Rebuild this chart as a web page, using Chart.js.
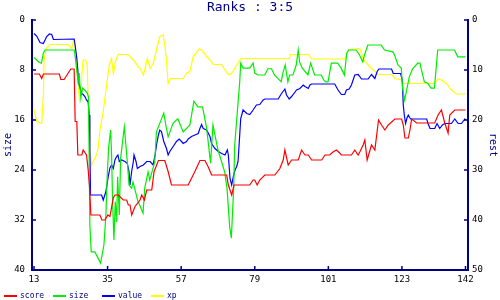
<!DOCTYPE html>
<html>
<head>
<meta charset="utf-8">
<script src="https://cdn.jsdelivr.net/npm/chart.js@4.4.1/dist/chart.umd.min.js"></script>
<style>
  html, body { margin: 0; padding: 0; background: #fff; }
  #chart { display: block; }
</style>
</head>
<body>
<canvas id="chart" width="500" height="300"></canvas>
<script>
// x ticks shown on the bottom axis
const xTicks = [13, 35, 57, 79, 101, 123, 142];
const seriesNames = ['score', 'size', 'value', 'xp'];
const seriesColors = ['#ff0000', '#00ee00', '#0000ff', '#ffff00'];

// [x, rank]
const score = [[13,10.8],[14.6,10.8],[15.3,11.7],[15.8,10.8],[20.6,10.8],[21,11.9],[22,11.9],[24,9.8],[25,9.8],[25.3,20.3],
  [25.8,20.3],[26.1,27],[27.3,27],[27.7,26],[28.7,27],[29.2,30],[29.6,33.4],[30,39],[32.7,39],[33.3,40],
  [34.2,40],[35.1,39],[35.7,39.3],[36.7,35.6],[37.2,35],[38.2,35],[39.7,36],[40.7,36],[41.2,37],[41.7,37],
  [42.2,39],[43.2,37.3],[44.7,36],[45.2,35],[46,36],[46.7,34],[48.2,34],[48.9,30.3],[50.2,28.1],[52.1,28.1],
  [53.1,30.3],[54.1,33],[59.1,33],[61.1,30.3],[62.6,28.1],[64.1,28.1],[65.1,29.4],[66.1,31],[70.6,31],[71.1,33],
  [72.1,35],[72.8,33],[77.5,33],[78.5,32],[79,32],[79.7,33],[80.5,32],[82,31],[85,31],[86.5,29.7],
  [87.5,28],[88,26],[89,29],[90,28],[92,28],[93,26],[94,27],[95,27],[96,28],[99,28],
  [100,27],[101.4,27],[102.4,26.4],[103.4,26],[104.4,26.6],[104.9,27],[107.9,27],[108.9,26],[109.9,27],[110.4,26.4],
  [111.4,25],[111.9,24],[112.6,28],[113.9,25],[114.9,26],[116,20],[116.9,21],[117.9,22],[118.9,21],[120.9,19.8],
  [122.9,19.8],[123.4,21],[123.9,23.6],[124.9,23.6],[125.4,22],[125.9,19.8],[127.4,20.6],[132.8,20.6],[133.8,19],[134.8,18],
  [135.8,20.6],[136.8,22.6],[137.3,19],[138.8,18],[142,18]];

const size = [[13,6],[14.6,6.8],[15.2,6.9],[15.8,5.3],[16.3,4.8],[25,4.8],[25.2,5.3],[25.7,7.7],[26.2,9.9],[26.5,8.5],
  [27,12.5],[27.5,10.9],[28.2,11.2],[28.9,11.7],[29.3,12.3],[29.7,32.8],[30.1,37.1],[31.2,37.1],[32.9,38.9],[33.9,36],
  [34.5,31.2],[34.9,24.8],[35.3,20.5],[35.9,17.6],[36.2,21.6],[36.5,29.1],[36.9,35.2],[37.3,29.1],[37.7,32.3],[38,25.1],
  [38.5,31.2],[38.9,22.1],[40,17.1],[40.9,22.7],[41.4,26.4],[42.2,26.9],[42.6,25.9],[44.1,29.1],[44.6,29.6],[45.6,30.9],
  [46.1,26.9],[47.1,24.3],[47.6,25.6],[49.1,22.7],[49.6,17.9],[51.8,14.9],[52.4,16.8],[53.1,18.7],[54.6,16.5],[56,15.8],
  [57.6,17.9],[59.6,16.8],[60.8,13],[62,13.9],[63.4,13.9],[64.6,17.3],[65.8,22.9],[66.5,16.8],[68,20.8],[70,24.3],
  [70.7,26.9],[71.5,33.1],[72,34.9],[72.7,26.9],[73,20],[74.5,9.9],[74.8,6.9],[75.5,7.7],[77.5,7.7],[78.5,6.9],
  [79,8.5],[79.9,8.8],[82,8.8],[82.9,7.8],[84,7.8],[84.9,8.8],[86.9,9.9],[87.4,8.5],[88.1,7.2],[88.9,9.9],
  [89.4,8.8],[90.4,8.8],[91.4,7.2],[92,4.8],[92.4,6.7],[93.2,7.7],[94.9,8.8],[95.7,6.9],[96.4,8],[96.9,8.8],
  [98.9,8.8],[99.6,9.6],[100.2,9.9],[100.9,9.9],[101.9,6.9],[103.8,6.9],[104.8,7.7],[105.8,8.8],[106.5,5.3],[107.1,4.8],
  [109.3,4.8],[110.3,5.6],[111.3,6.7],[111.8,5.6],[112.8,4],[116.8,4],[117.8,4.8],[120.3,5.1],[120.8,5.6],[121.8,7.2],
  [122.8,7.7],[123.2,10.9],[123.8,12.8],[124.3,11.5],[125.2,9.1],[126.2,7.8],[127.7,6.9],[128.4,6.9],[128.7,7.7],[129.7,9.9],
  [130.7,10.1],[131.7,10.9],[132.7,10.9],[133.7,4.8],[138.7,4.8],[139.7,5.9],[142,5.9]];

const value = [[13,2.7],[13.8,3.2],[14.8,4.5],[15.8,4.7],[16.8,3.3],[17.6,2.8],[18.3,2.9],[18.8,3.9],[25,3.8],[25.3,5.1],
  [25.8,7.7],[26.1,10],[26.3,12.3],[26.8,13.7],[27.3,14.7],[27.7,14.9],[28.2,15.3],[28.7,16],[29.2,16.4],[29.5,19],
  [29.7,25.6],[29.9,35],[33.2,35],[33.7,36],[34.5,34.3],[35.2,31.3],[35.7,29.6],[36.2,29],[36.7,29.7],[37.2,28],
  [37.7,27.3],[38.1,27],[38.5,28.3],[39.2,28],[40.2,28.3],[40.9,28.7],[41.4,30.3],[41.7,33],[42.2,30.3],[42.7,28.3],
  [42.9,27],[43.5,28.3],[43.9,29.7],[44.7,29.3],[45.7,29],[46.7,28.3],[47.7,28.3],[48.6,29],[49.2,27],[49.7,24.7],
  [50.2,23],[50.6,22],[51.1,22.3],[51.8,24.3],[52.6,25.7],[53.1,27],[53.6,26.3],[54.6,25.3],[55.6,24.3],[56.4,23.8],
  [57.1,24.3],[57.6,24.7],[58.6,24.3],[59.1,23.8],[60.1,23.3],[61.1,23],[62.1,22.7],[62.6,21.7],[63.1,20.9],[63.6,21.7],
  [64.6,22],[65.6,23.3],[66.1,24.7],[67.1,25.7],[68.1,26.3],[69.1,26.7],[70.1,27],[70.8,26],[71.1,27],[71.6,31.7],
  [72.1,33],[72.6,31.3],[73.1,30],[73.6,29.3],[74,28.3],[74.5,23],[74.8,19.7],[75.5,18],[76.6,18.7],[77.5,18.9],
  [78.5,18],[79.5,17],[80.5,16.9],[81.5,16],[82,15.8],[86,15.8],[87,14.7],[88,13.8],[88.5,15],[89.3,15.8],
  [90,15.3],[91.5,14],[92.5,13.7],[93.5,13],[94,13.3],[95,13.7],[95.5,13],[96,12.8],[102.9,12.8],[103.9,14],
  [104.9,14.9],[105.9,14.9],[106.4,14],[107.2,13.8],[107.9,13],[108.9,11],[109.9,10.9],[110.4,11.3],[110.9,11.8],[112.9,11.8],
  [113.9,10.9],[114.4,11.3],[114.9,11.7],[115.6,10.3],[116.1,9.8],[119.9,9.8],[120.4,10.7],[122.6,10.7],[123.1,12],[123.4,17],
  [123.7,19],[124.1,20.7],[124.5,19.6],[124.9,19],[125.4,19.6],[125.6,19.8],[130.4,19.8],[130.8,20.7],[131.4,21.7],[132.8,21.7],
  [133.5,20.7],[134.3,21.7],[135.1,21],[135.8,20.7],[137.8,20.7],[138.8,19.8],[139.8,20.7],[140.8,20.7],[141.8,19.8],[142,20]];

const xp = [[13,17.9],[13.8,20.3],[15.3,20.7],[15.8,15],[16,8],[16.6,5.7],[17.8,4.9],[23.2,4.9],[24.3,5.7],[24.8,4],
  [25.3,5],[25.6,7.7],[26.1,12.3],[26.6,16],[27,14.4],[27.3,11],[27.7,8],[28.4,8],[28.9,9],[29.2,16],
  [29.5,21],[29.7,25.6],[30.2,29],[30.7,28.3],[31.7,27],[32.2,25.6],[32.7,22],[33.7,18.3],[34.7,13],[35.5,9],
  [36.2,7.7],[36.7,10.7],[37.5,8],[38.2,6.9],[41.2,6.9],[42.7,8],[44.2,9.3],[44.7,9.7],[45.7,11],[46.9,7.7],
  [47.7,9.7],[48.7,8.6],[49.7,5.7],[50.6,3.3],[51.6,3],[52.1,5],[52.6,8],[53.1,12.7],[53.8,11.7],[57.6,11.7],
  [58.6,10.6],[59.6,10.3],[60.6,7.3],[62.4,5.8],[63.1,6],[64.6,7.3],[65.6,8],[66.6,8.9],[69.1,8.9],[70.1,10],
  [71.1,10.9],[72.1,10.7],[73.6,9],[74.6,8],[75.1,7.7],[89.3,7.7],[89.7,6.9],[95,6.9],[96,7.8],[105.9,7.8],
  [106.9,6],[109.9,5.7],[110.4,5.7],[111.4,7.7],[112.4,8.6],[113.9,9.7],[114.9,10.3],[115.9,10.9],[119.9,10.9],[120.9,11.7],
  [122.9,12],[123.4,12.7],[132.8,12.7],[133.8,11.8],[134.8,12],[136.3,12.7],[137.8,14],[139.3,14.8],[142,14.8]];

const navy = '#000080';
const mono = 'DejaVu Sans Mono';
const toPoints = arr => arr.map(p => ({x: p[0], y: p[1]}));

// tick marks pointing into the plot, like the original
const innerTicks = {
    id: 'innerTicks',
    afterDraw(chart) {
        const {ctx, chartArea: a, scales} = chart;
        ctx.save();
        ctx.strokeStyle = navy;
        ctx.lineWidth = 1.5;
        ctx.beginPath();
        scales.x.ticks.forEach(t => {
            const px = scales.x.getPixelForValue(t.value);
            ctx.moveTo(px, a.bottom); ctx.lineTo(px, a.bottom - 4);
        });
        scales.y.ticks.forEach(t => {
            const py = scales.y.getPixelForValue(t.value);
            ctx.moveTo(a.left, py); ctx.lineTo(a.left + 4, py);
        });
        scales.y2.ticks.forEach(t => {
            const py = scales.y2.getPixelForValue(t.value);
            ctx.moveTo(a.right, py); ctx.lineTo(a.right - 4, py);
        });
        ctx.stroke();
        ctx.restore();
    }
};

// legend with fixed slots along the bottom edge
const slotLegend = {
    id: 'slotLegend',
    afterDraw(chart) {
        const ctx = chart.ctx;
        ctx.save();
        ctx.font = '8px "' + mono + '"';
        ctx.textBaseline = 'middle';
        chart.data.datasets.forEach((ds, i) => {
            const x0 = 4 + i * 49;
            ctx.fillStyle = ds.borderColor;
            ctx.fillRect(x0, 295, 13, 2);
            ctx.fillStyle = navy;
            ctx.fillText(ds.label, x0 + 16, 296);
        });
        ctx.restore();
    }
};

new Chart(document.getElementById('chart'), {
    type: 'line',
    data: {
        datasets: [
            {label: seriesNames[0], data: toPoints(score), yAxisID: 'y2'},
            {label: seriesNames[1], data: toPoints(size), yAxisID: 'y'},
            {label: seriesNames[2], data: toPoints(value), yAxisID: 'y2'},
            {label: seriesNames[3], data: toPoints(xp), yAxisID: 'y2'}
        ].map((d, i) => Object.assign(d, {
            borderColor: seriesColors[i],
            backgroundColor: seriesColors[i],
            borderWidth: 1.2,
            pointRadius: 0,
            tension: 0,
            fill: false
        }))
    },
    options: {
        responsive: false,
        animation: false,
        devicePixelRatio: 1,
        layout: {padding: 0},
        plugins: {
            legend: {display: false},
            tooltip: {enabled: false},
            title: {
                display: true,
                text: 'Ranks : 3:5',
                color: navy,
                font: {family: mono, size: 13, weight: 'normal', lineHeight: 1.2},
                padding: {top: 0, bottom: 4.4}
            }
        },
        scales: {
            x: {
                type: 'linear',
                position: 'bottom',
                min: 12.4,
                max: 142.75,
                afterBuildTicks: s => { s.ticks = xTicks.map(v => ({value: v})); },
                afterFit: s => { s.height = 30; },
                grid: {display: false, drawTicks: false},
                border: {display: true, color: navy, width: 2},
                ticks: {color: '#000', padding: 4, maxRotation: 0, autoSkip: false,
                    font: {family: mono, size: 9}}
            },
            y: {
                position: 'left',
                reverse: true,
                min: 0,
                max: 40,
                afterFit: s => { s.width = 32; },
                grid: {display: false, drawTicks: false},
                border: {display: true, color: navy, width: 2},
                ticks: {stepSize: 8, color: '#000', padding: 7, font: {family: mono, size: 9}},
                title: {display: true, text: 'size', color: navy, padding: {top: 2, bottom: 0},
                    font: {family: mono, size: 10, lineHeight: 1.2}}
            },
            y2: {
                position: 'right',
                reverse: true,
                min: 0,
                max: 50,
                afterFit: s => { s.width = 32; },
                grid: {display: false, drawTicks: false},
                border: {display: true, color: navy, width: 2},
                ticks: {stepSize: 10, color: '#000', padding: 4, font: {family: mono, size: 9}},
                title: {display: true, text: 'rest', color: navy, padding: {top: 1, bottom: 0},
                    font: {family: mono, size: 10, lineHeight: 1.2}}
            }
        }
    },
    plugins: [innerTicks, slotLegend]
});
</script>
</body>
</html>
